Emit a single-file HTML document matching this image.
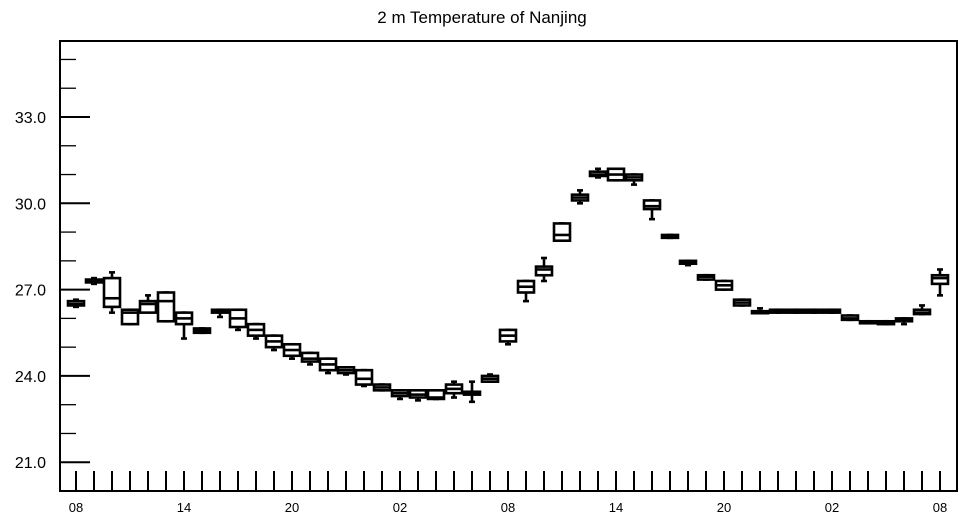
<!DOCTYPE html>
<html><head><meta charset="utf-8"><style>
body{margin:0;background:#fff;}
svg{display:block;font-family:"Liberation Sans",Arial,sans-serif;}
</style></head><body>
<svg id="chart" width="964" height="520" viewBox="0 0 964 520"></svg>
<script>
const hourLabels=["08","14","20","02","08","14","20","02","08"];
const yTickValues=[21,24,27,30,33];
const mins=[26.4,27.2,26.2,25.8,26.3,25.9,25.3,25.5,26.05,25.6,25.3,24.9,24.6,24.4,24.1,24.05,23.65,23.5,23.2,23.15,23.2,23.25,23.1,23.8,25.1,26.6,27.3,28.8,30.0,30.9,30.8,30.65,29.45,28.8,27.85,27.35,27.0,26.45,26.2,26.2,26.2,26.2,26.2,25.95,25.85,25.8,25.8,26.15,26.8];
const q1s=[26.45,27.25,26.4,25.8,26.2,25.9,25.8,25.5,26.2,25.7,25.4,25.0,24.7,24.5,24.2,24.1,23.7,23.5,23.3,23.25,23.2,23.4,23.35,23.8,25.2,26.9,27.5,28.7,30.1,30.95,30.8,30.8,29.8,28.8,27.9,27.35,27.0,26.45,26.2,26.2,26.2,26.2,26.2,25.95,25.85,25.8,25.9,26.15,27.2];
const medians=[26.5,27.3,26.7,26.2,26.5,26.6,26.0,25.58,26.25,26.0,25.6,25.2,24.9,24.6,24.4,24.2,23.9,23.6,23.4,23.35,23.25,23.55,23.4,23.9,25.4,27.1,27.7,28.9,30.2,31.0,31.0,30.9,29.9,28.85,27.95,27.45,27.15,26.55,26.22,26.25,26.25,26.25,26.25,26.0,25.87,25.85,25.95,26.2,27.4];
const q3s=[26.6,27.35,27.4,26.3,26.6,26.9,26.2,25.65,26.3,26.3,25.8,25.4,25.1,24.8,24.6,24.3,24.2,23.7,23.5,23.5,23.5,23.7,23.45,24.0,25.6,27.3,27.8,29.3,30.3,31.1,31.2,31.0,30.1,28.9,28.0,27.5,27.3,26.65,26.25,26.3,26.3,26.3,26.3,26.1,25.9,25.9,26.0,26.3,27.5];
const maxs=[26.65,27.4,27.6,26.3,26.8,26.9,26.2,25.65,26.3,26.3,25.8,25.4,25.1,24.8,24.6,24.3,24.2,23.7,23.5,23.5,23.5,23.8,23.8,24.05,25.6,27.3,28.1,29.3,30.45,31.2,31.2,31.0,30.1,28.9,28.0,27.5,27.3,26.65,26.35,26.3,26.3,26.3,26.3,26.1,25.9,25.9,26.0,26.45,27.7];

const NS="http://www.w3.org/2000/svg";
const svg=document.getElementById('chart');
const L=60,R=957,T=41,B=491;
function yScale(v){return 117+(33-v)*28.77;}
function xScale(i){return 76+18*i;}
function mk(tag,attrs,parent){const e=document.createElementNS(NS,tag);for(const k in attrs)e.setAttribute(k,attrs[k]);(parent||svg).appendChild(e);return e;}

const title=mk('text',{x:482,y:23,'text-anchor':'middle','font-size':17});


title.textContent="2 m Temperature of Nanjing";

const frame=mk('rect',{x:L,y:T,width:R-L,height:B-T,fill:'none',stroke:'#000','stroke-width':2});



// y ticks
for(let v=21;v<=35;v+=1){
  const y=yScale(v);
  if(y<T||y>B)continue;
  const major=yTickValues.includes(v);
  const t=mk('line',{x1:L,x2:L+(major?30:16),y1:y,y2:y,stroke:'#000','stroke-width':major?2:1.3});
  
  
}
yTickValues.forEach(v=>{
  const t=mk('text',{x:46,y:yScale(v)+6,'text-anchor':'end','font-size':16});
  
  
  t.textContent=v.toFixed(1);
});
// x ticks
for(let i=0;i<medians.length;i++){
  const x=xScale(i);
  const t=mk('line',{x1:x,x2:x,y1:B,y2:B-20,stroke:'#000','stroke-width':2});
  
  
}
hourLabels.forEach((s,k)=>{
  const t=mk('text',{x:xScale(k*6),y:512,'text-anchor':'middle','font-size':13});
  
  
  t.textContent=s;
});
// boxes
for(let i=0;i<medians.length;i++){
  const g=mk('g',{stroke:'#000','stroke-width':2.6,fill:'none'});
  
  
  const x=xScale(i),w=16;
  const yq1=yScale(q1s[i]),yq3=yScale(q3s[i]);
  mk('line',{x1:x,x2:x,y1:yScale(maxs[i]),y2:yScale(mins[i])},g);
  mk('line',{x1:x-3,x2:x+3,y1:yScale(maxs[i]),y2:yScale(maxs[i])},g);
  mk('line',{x1:x-3,x2:x+3,y1:yScale(mins[i]),y2:yScale(mins[i])},g);
  mk('rect',{x:x-w/2,y:yq3,width:w,height:Math.max(yq1-yq3,2),fill:'#fff'},g);
  mk('line',{x1:x-w/2,x2:x+w/2,y1:yScale(medians[i]),y2:yScale(medians[i])},g);
}
</script>
</body></html>
